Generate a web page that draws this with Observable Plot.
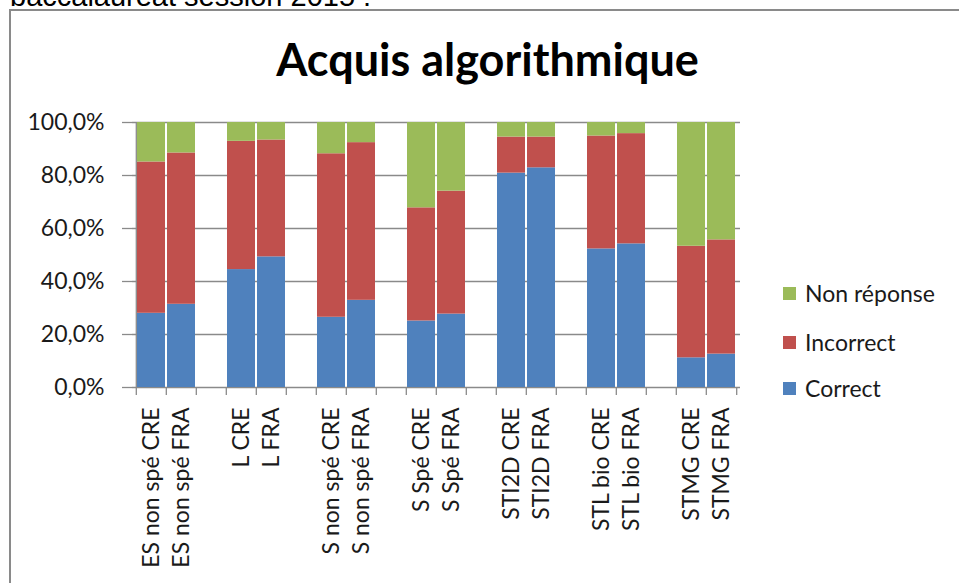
<!DOCTYPE html>
<html>
<head>
<meta charset="utf-8">
<script src="https://cdn.jsdelivr.net/npm/d3@7"></script>
<script src="https://cdn.jsdelivr.net/npm/@observablehq/plot@0.6"></script>
<style>
  html, body { margin: 0; padding: 0; width: 959px; height: 583px; overflow: hidden; background: #fff; }
  #page { position: relative; width: 959px; height: 583px; overflow: hidden; }
  #top { position: absolute; left: 10px; top: -18px; font-family: "Liberation Sans", Arial, sans-serif; font-size: 29px; line-height: 1; color: #000; white-space: nowrap; }
  #frame { position: absolute; left: 9px; top: 9px; width: 1000px; height: 700px; border-left: 2px solid #8a8a8a; border-top: 2px solid #8a8a8a; }
  #chart { position: absolute; left: 0; top: 0; }
  #title { position: absolute; left: 0; width: 975px; top: 37px; text-align: center; font-family: Lato, sans-serif; font-weight: bold; font-size: 45px; line-height: 1; color: #000; white-space: nowrap; }
  #legend { position: absolute; left: 783px; top: 0; font-family: Lato, sans-serif; font-size: 23px; color: #1a1a1a; }
  .row { position: absolute; left: 0; height: 30px; display: flex; align-items: center; white-space: nowrap; }
  .sw { width: 13px; height: 13px; margin-right: 9px; flex: none; }
</style>
</head>
<body>
<div id="page">
  <div id="frame"></div>
  <div id="chart"></div>
  <div id="top">baccalauréat session 2015 :</div>
  <div id="title">Acquis algorithmique</div>
  <div id="legend"></div>
</div>
<script>
// ---- data ----
const categories = [
  "ES non spé CRE", "ES non spé FRA",
  "L CRE", "L FRA",
  "S non spé CRE", "S non spé FRA",
  "S Spé CRE", "S Spé FRA",
  "STI2D CRE", "STI2D FRA",
  "STL bio CRE", "STL bio FRA",
  "STMG CRE", "STMG FRA"
];
const correct    = [28.0, 31.4, 44.5, 49.3, 26.5, 32.9, 25.1, 27.7, 80.9, 82.9, 52.3, 54.2, 11.2, 12.6];
const incorrect  = [57.1, 57.1, 48.4, 44.1, 61.7, 59.5, 42.7, 46.4, 13.6, 11.6, 42.6, 41.6, 42.1, 43.1];
const nonReponse = [14.9, 11.5,  7.1,  6.6, 11.8,  7.6, 32.2, 25.9,  5.5,  5.5,  5.1,  4.2, 46.7, 44.3];
const seriesNames = ["Correct", "Incorrect", "Non réponse"];
const seriesColors = ["#4F81BD", "#C0504D", "#9BBB59"];
const yTicks = [0, 0.2, 0.4, 0.6, 0.8, 1];
const legendOrder = ["Non réponse", "Incorrect", "Correct"];

// ---- build tables ----
const seriesValues = [correct, incorrect, nonReponse];
const data = [];
categories.forEach((c, i) => {
  seriesNames.forEach((s, k) => data.push({cat: c, series: s, value: seriesValues[k][i] / 100}));
});
// x domain: pairs separated by an empty slot
const domain = [];
categories.forEach((c, i) => {
  domain.push(c);
  if (i % 2 === 1 && i < categories.length - 1) domain.push("gap" + i);
});

const W = 959, H = 583;
const mL = 132, mR = 219, mT = 122, mB = 196;
const step = (W - mL - mR) / domain.length;
const gridColor = "#8a8a8a";
const textColor = "#1a1a1a";

const chart = Plot.plot({
  width: W,
  height: H,
  marginLeft: mL,
  marginRight: mR,
  marginTop: mT,
  marginBottom: mB,
  style: {background: "transparent", fontFamily: "Lato, sans-serif", fontSize: "23px", color: textColor, overflow: "visible"},
  x: {type: "band", domain, paddingInner: 0.08, paddingOuter: 0.04, align: 0.5, label: null},
  y: {domain: [0, 1], label: null},
  color: {domain: seriesNames, range: seriesColors},
  marks: [
    Plot.gridY(yTicks, {stroke: gridColor, strokeOpacity: 1, strokeWidth: 1.3}),
    Plot.barY(data, {x: "cat", y: "value", fill: "series"}),
    // category boundary ticks (Excel style)
    Plot.ruleX(domain, {x: d => d, dx: -step / 2, y1: 0, y2: 0, insetBottom: -8, stroke: gridColor, strokeWidth: 1.3}),
    Plot.ruleX([domain[domain.length - 1]], {x: d => d, dx: step / 2, y1: 0, y2: 0, insetBottom: -8, stroke: gridColor, strokeWidth: 1.3}),
    // vertical value axis line
    Plot.ruleX([domain[0]], {x: d => d, dx: -step / 2, y1: 0, y2: 1, stroke: gridColor, strokeWidth: 1.3}),
    Plot.axisY({
      ticks: yTicks,
      tickSize: 10,
      tickPadding: 18,
      stroke: gridColor,
      strokeWidth: 1.3,
      tickFormat: d => (d * 100).toFixed(1).replace(".", ",") + "%",
      fontSize: 23,
      fill: textColor
    }),
    Plot.axisX({
      tickSize: 0,
      tickPadding: 20,
      tickRotate: -90,
      tickFormat: d => categories.includes(d) ? d : "",
      fontSize: 23,
      fill: textColor
    })
  ]
});
document.getElementById("chart").appendChild(chart);

// ---- legend ----
const legend = document.getElementById("legend");
const rowCenters = [293, 342, 388];
legendOrder.forEach((name, i) => {
  const row = document.createElement("div");
  row.className = "row";
  row.style.top = (rowCenters[i] - 15) + "px";
  const sw = document.createElement("div");
  sw.className = "sw";
  sw.style.background = seriesColors[seriesNames.indexOf(name)];
  const label = document.createElement("span");
  label.textContent = name;
  row.appendChild(sw);
  row.appendChild(label);
  legend.appendChild(row);
});
</script>
</body>
</html>
